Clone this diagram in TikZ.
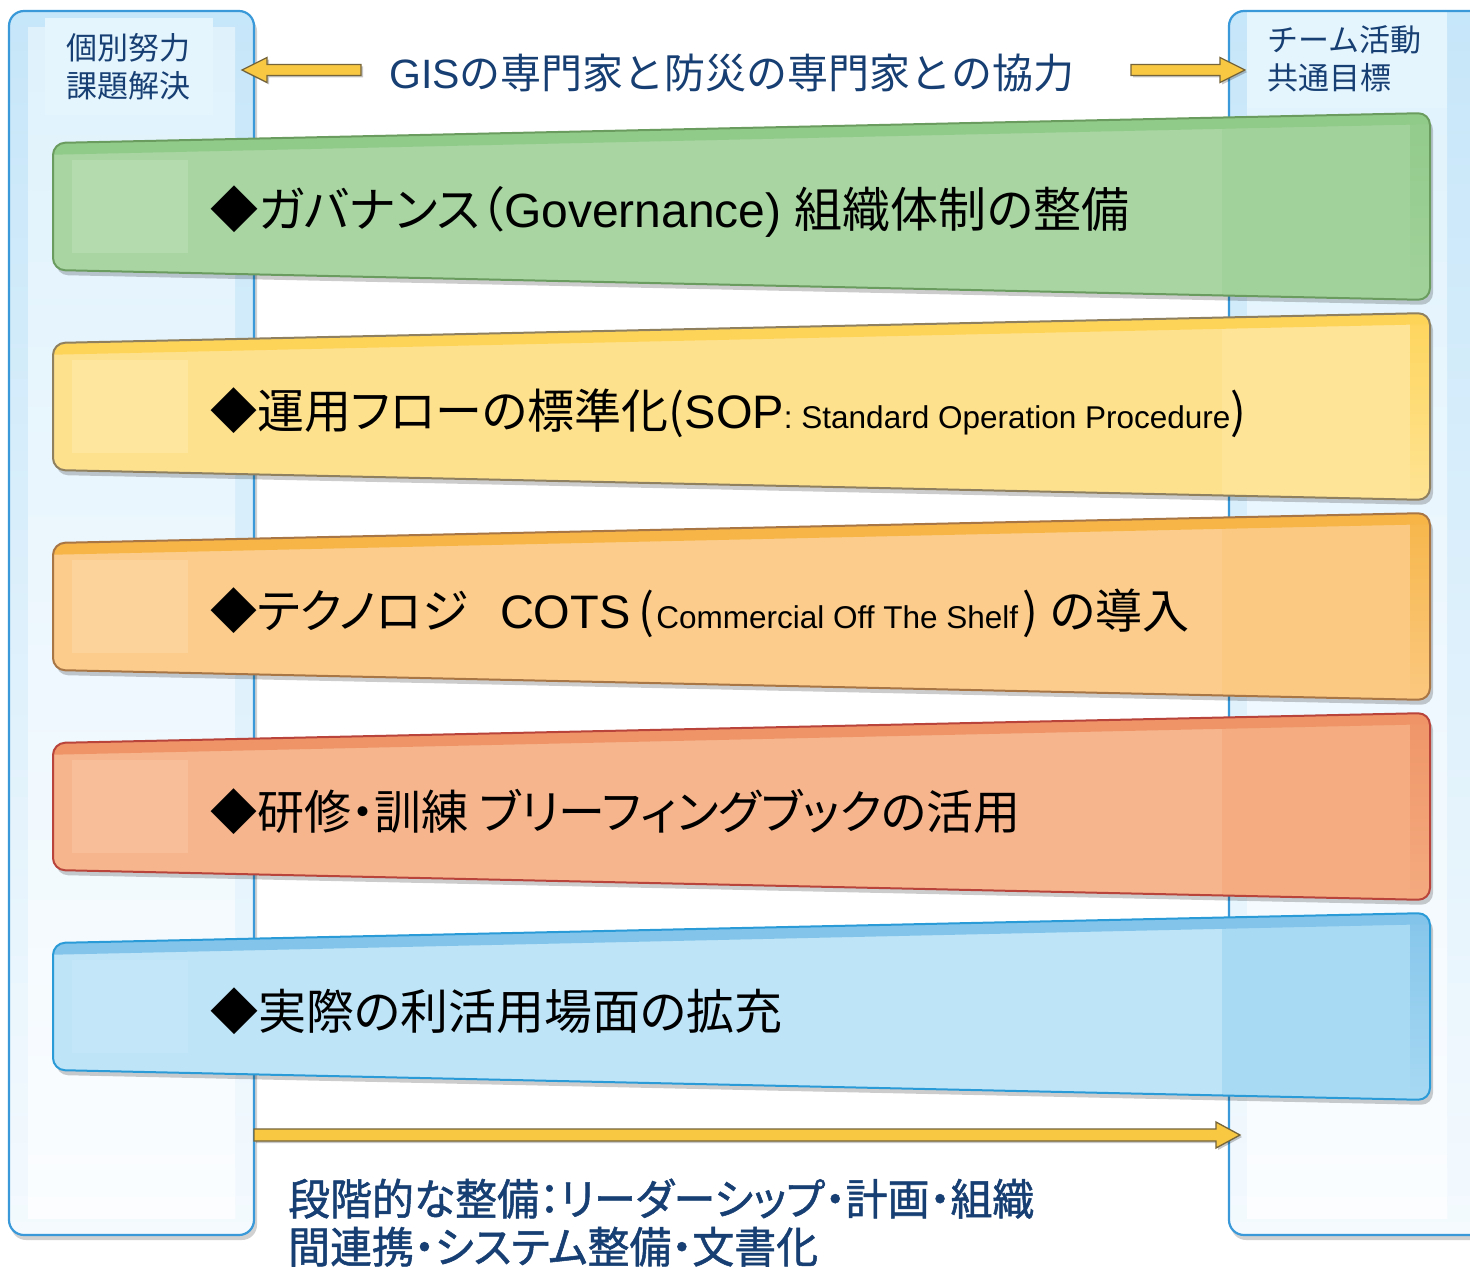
\documentclass[tikz,border=0pt]{standalone}
\usepackage{fontspec}
\usetikzlibrary{calc}
\setmainfont{Noto Sans CJK JP}
\newfontfamily\fontJP{Noto Sans CJK JP}
\newfontfamily\fontJPP[RawFeature=+palt]{Noto Sans CJK JP}
\newfontfamily\fontJPC[RawFeature=+palt,FakeStretch=0.975,FakeBold=1.2]{Noto Sans CJK JP}
\newfontfamily\fontLA{Liberation Sans}

\definecolor{navy}{HTML}{173F73}
\definecolor{colborder}{HTML}{3A9AD9}
\definecolor{colA}{HTML}{C6E6F9}
\definecolor{colAbot}{HTML}{F4FAFE}
\definecolor{colB}{HTML}{DFF2FC}
\definecolor{colBbot}{HTML}{FBFDFF}
\definecolor{colL}{HTML}{E4F5FD}
\definecolor{arrfill}{HTML}{F8C843}
\definecolor{arrline}{HTML}{76653A}

\definecolor{gBase}{HTML}{A8D5A2}\definecolor{gTop}{HTML}{91CB8A}\definecolor{gLight}{HTML}{B4DBAE}\definecolor{gLine}{HTML}{6B9C5F}\definecolor{gRight}{HTML}{A2D29B}
\definecolor{yBase}{HTML}{FEE18D}\definecolor{yTop}{HTML}{FED458}\definecolor{yLight}{HTML}{FEE69F}\definecolor{yLine}{HTML}{8F8060}\definecolor{yRight}{HTML}{FEE496}
\definecolor{oBase}{HTML}{FBCC8B}\definecolor{oTop}{HTML}{F6B546}\definecolor{oLight}{HTML}{FCD39B}\definecolor{oLine}{HTML}{A87545}\definecolor{oRight}{HTML}{FBC982}
\definecolor{sBase}{HTML}{F6B58D}\definecolor{sTop}{HTML}{EF9467}\definecolor{sLight}{HTML}{F8BE99}\definecolor{sLine}{HTML}{B8443B}\definecolor{sRight}{HTML}{F4AC80}
\definecolor{bBase}{HTML}{BDE4F7}\definecolor{bTop}{HTML}{83C4EA}\definecolor{bLight}{HTML}{C3E7F8}\definecolor{bLine}{HTML}{2B9BD8}\definecolor{bRight}{HTML}{A9DAF3}

\newcommand\bandfont{\fontJPP\fontsize{47}{56}\selectfont}
\newcommand\bandfontL{\fontJPP\fontsize{48}{56}\selectfont}
\newcommand\smallla{\fontLA\fontsize{31.5}{36}\selectfont}

\tikzset{
  bandtext/.style={anchor=base west, inner sep=0pt, text=black, font=\bandfont},
  bandtextL/.style={anchor=base west, inner sep=0pt, text=black, font=\bandfontL},
  coltext/.style={anchor=base west, inner sep=0pt, text=navy, font=\fontJP\fontsize{31}{36}\selectfont},
  titletext/.style={anchor=base west, inner sep=0pt, text=navy, font=\fontJP\fontsize{41}{46}\selectfont},
  bottomtext/.style={anchor=base west, inner sep=0pt, text=navy, font=\fontJPC\fontsize{43}{48}\selectfont},
  blockarrow/.style={fill=arrfill, draw=arrline, line width=1.3pt, line join=miter},
  arrshadow/.style={fill=black, opacity=0.22},
  colframe/.style={draw=colborder, line width=2.2pt, rounded corners=15pt},
}

% band: #1 y offset, #2 base, #3 top, #4 light, #5 line, #6 right region
\newcommand\drawband[6]{%
  \fill[black,opacity=.2,rounded corners=12pt] (56,{148+#1}) -- (1433,{118+#1}) -- (1433,{305+#1}) -- (56,{275+#1}) -- cycle;
  \begin{scope}
    \clip[rounded corners=12pt] (53,{143+#1}) -- (1430,{113+#1}) -- (1430,{300+#1}) -- (53,{270+#1}) -- cycle;
    \fill[#2] (40,{100+#1}) rectangle (1440,{310+#1});
    \fill[#6] (1222,{100+#1}) rectangle (1440,{310+#1});
    \fill[top color=#3, bottom color=#6] (1410,{100+#1}) rectangle (1440,{310+#1});
    \fill[#3] (40,{130+#1}) -- (1440,{100+#1}) -- (1440,{124+#1}) -- (40,{155+#1}) -- cycle;
    \fill[#4] (72,{160+#1}) rectangle (188,{253+#1});
  \end{scope}
  \draw[#5,line width=2pt,rounded corners=12pt] (53,{143+#1}) -- (1430,{113+#1}) -- (1430,{300+#1}) -- (53,{270+#1}) -- cycle;
}

\begin{document}
\begin{tikzpicture}[x=1pt,y=-1pt]
\useasboundingbox (0,0) rectangle (1470,1268);
\fill[white] (0,0) rectangle (1470,1268);

% ---------- left column ----------
\fill[black,opacity=.18,rounded corners=15pt] (11,16) rectangle (257,1240);
\fill[rounded corners=15pt, top color=colA, bottom color=colAbot] (9,11) rectangle (254,1235);
\fill[top color=colB, bottom color=colBbot] (28,28) rectangle (235,1218);
\fill[colL] (45,18) rectangle (213,115);
\draw[colframe] (9,11) rectangle (254,1235);
\coordinate (lcolB) at (254,1135);

% ---------- right column ----------
\fill[black,opacity=.18,rounded corners=15pt] (1231,16) rectangle (1495,1240);
\fill[rounded corners=15pt, top color=colA, bottom color=colAbot] (1229,11) rectangle (1492,1235);
\fill[top color=colB, bottom color=colBbot] (1247,28) rectangle (1447,1218);
\fill[colL] (1247,11) rectangle (1447,108);
\draw[colframe] (1229,11) rectangle (1492,1235);

% ---------- column labels ----------
\node[coltext] (l1) at (66,60) {個別努力};
\node[coltext] (l2) at (66,98) {課題解決};
\node[coltext] (r1) at (1267,52) {チーム活動};
\node[coltext] (r2) at (1267,90) {共通目標};

% ---------- title ----------
\node[titletext] (title) at (389,89) {{\fontLA GIS}の専門家と防災の専門家との協力};

% ---------- top arrows ----------
\coordinate (la1) at (361,70);
\coordinate (la2) at (242,70);
\fill[arrshadow] ($(la1)+(2,-3.5)$) -- ($(la2)+(27,-3.5)$) -- ($(la2)+(27,-10.5)$) -- ($(la2)+(2,2)$) -- ($(la2)+(27,14.5)$) -- ($(la2)+(27,7.5)$) -- ($(la1)+(2,7.5)$) -- cycle;
\filldraw[blockarrow] ($(la1)+(0,-5.5)$) -- ($(la2)+(25,-5.5)$) -- ($(la2)+(25,-12.5)$) -- (la2) -- ($(la2)+(25,12.5)$) -- ($(la2)+(25,5.5)$) -- ($(la1)+(0,5.5)$) -- cycle;

\coordinate (ra1) at (1131,70);
\coordinate (ra2) at (1245,70);
\fill[arrshadow] ($(ra1)+(2,-3.5)$) -- ($(ra2)+(-23,-3.5)$) -- ($(ra2)+(-23,-10.5)$) -- ($(ra2)+(2,2)$) -- ($(ra2)+(-23,14.5)$) -- ($(ra2)+(-23,7.5)$) -- ($(ra1)+(2,7.5)$) -- cycle;
\filldraw[blockarrow] ($(ra1)+(0,-5.5)$) -- ($(ra2)+(-25,-5.5)$) -- ($(ra2)+(-25,-12.5)$) -- (ra2) -- ($(ra2)+(-25,12.5)$) -- ($(ra2)+(-25,5.5)$) -- ($(ra1)+(0,5.5)$) -- cycle;

% ---------- bands ----------
\drawband{0}{gBase}{gTop}{gLight}{gLine}{gRight}
\drawband{200}{yBase}{yTop}{yLight}{yLine}{yRight}
\drawband{400}{oBase}{oTop}{oLight}{oLine}{oRight}
\drawband{600}{sBase}{sTop}{sLight}{sLine}{sRight}
\drawband{800}{bBase}{bTop}{bLight}{bLine}{bRight}

\node[bandtextL] (b1) at (210,228) {◆ガバナンス（{\fontLA Governance) }組織体制の整備};
\node[bandtext] (b2) at (210,428) {◆運用フローの標準化({\fontLA SOP}{\smallla : Standard Operation Procedure})};
\node[bandtext] (b3) at (210,628) {◆テクノロジ\hspace{32pt}{\fontLA COTS}\hspace{8pt}(\hspace{2pt}{\smallla Commercial Off The Shelf}\hspace{4pt})\hspace{12pt}の導入};
\node[bandtext] (b4) at (210,829) {◆研修・訓練 ブリーフィングブックの活用};
\node[bandtextL] (b5) at (210,1029) {◆実際の利活用場面の拡充};

% ---------- bottom arrow ----------
\coordinate (ba1) at (lcolB);
\coordinate (ba2) at (1240,1135);
\fill[arrshadow] ($(ba1)+(2,-4)$) -- ($(ba2)+(-22,-4)$) -- ($(ba2)+(-22,-11)$) -- ($(ba2)+(2,2)$) -- ($(ba2)+(-22,15)$) -- ($(ba2)+(-22,8)$) -- ($(ba1)+(2,8)$) -- cycle;
\filldraw[blockarrow] ($(ba1)+(0,-6)$) -- ($(ba2)+(-24,-6)$) -- ($(ba2)+(-24,-13)$) -- (ba2) -- ($(ba2)+(-24,13)$) -- ($(ba2)+(-24,6)$) -- ($(ba1)+(0,6)$) -- cycle;

% ---------- bottom text ----------
\node[bottomtext] (n1) at (288,1215) {段階的な整備：リーダーシップ・計画・組織};
\node[bottomtext] (n2) at (288,1263) {間連携・システム整備・文書化};
\end{tikzpicture}
\end{document}
